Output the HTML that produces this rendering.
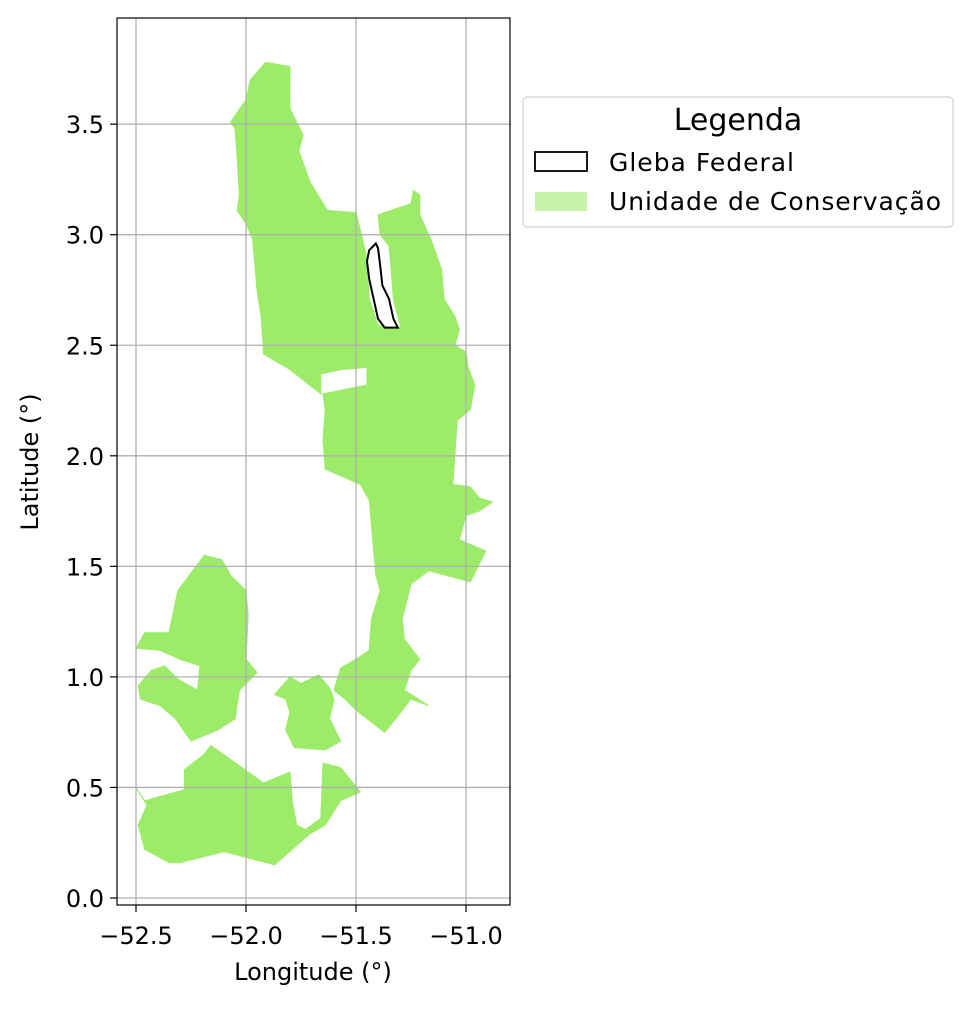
<!DOCTYPE html>
<html><head><meta charset="utf-8"><style>
body{margin:0;background:#fff;}
svg text{font-family:"DejaVu Sans","Liberation Sans",sans-serif;fill:#000;}
</style></head><body>
<svg id="chart" width="971" height="1006" xmlns="http://www.w3.org/2000/svg">
<rect width="971" height="1006" fill="#fff"/>
<g id="polys"></g>
<g id="grid"></g>
<g id="gleba"></g>
<rect x="117" y="18" width="393" height="887" fill="none" stroke="#000" stroke-width="1.2"/>
<g id="ticks"></g>
<text x="313" y="980" font-size="24" text-anchor="middle">Longitude (°)</text>
<text x="38" y="462" font-size="24" text-anchor="middle" transform="rotate(-90 38 462)">Latitude (°)</text>
<g>
<rect x="523" y="97" width="430" height="130" rx="4" fill="#fff" stroke="#d0d0d0" stroke-width="1.2"/>
<text x="738" y="130" font-size="30" text-anchor="middle">Legenda</text>
<rect x="535" y="152" width="52" height="19" fill="none" stroke="#000" stroke-width="1.8"/>
<text x="609" y="171" font-size="25" textLength="185">Gleba Federal</text>
<rect x="535" y="192" width="52" height="19" fill="#c6f3a9"/>
<text x="609" y="210" font-size="25" textLength="332">Unidade de Conservação</text>
</g>
</svg>
<script>
const xTicks=[-52.5,-52.0,-51.5,-51.0];
const xTickLabels=["−52.5","−52.0","−51.5","−51.0"];
const yTicks=[0.0,0.5,1.0,1.5,2.0,2.5,3.0,3.5];
const yTickLabels=["0.0","0.5","1.0","1.5","2.0","2.5","3.0","3.5"];
const ucNorth=[[-51.91,3.78],[-51.80,3.76],[-51.80,3.57],[-51.74,3.45],[-51.76,3.38],[-51.71,3.24],[-51.63,3.11],[-51.50,3.10],[-51.47,2.98],[-51.45,2.89],[-51.44,2.71],[-51.40,2.59],[-51.32,2.57],[-51.25,2.62],[-51.19,2.65],[-51.10,2.71],[-51.05,2.63],[-51.03,2.57],[-51.05,2.50],[-51.00,2.47],[-50.99,2.40],[-50.96,2.32],[-50.98,2.21],[-51.04,2.16],[-51.06,1.87],[-50.98,1.86],[-50.94,1.81],[-50.88,1.79],[-50.94,1.75],[-51.00,1.73],[-51.03,1.62],[-50.91,1.57],[-50.98,1.43],[-51.17,1.48],[-51.25,1.42],[-51.29,1.26],[-51.28,1.17],[-51.21,1.08],[-51.25,1.03],[-51.28,0.94],[-51.17,0.87],[-51.25,0.90],[-51.32,0.81],[-51.37,0.75],[-51.41,0.78],[-51.50,0.85],[-51.55,0.90],[-51.60,0.94],[-51.57,1.04],[-51.50,1.08],[-51.44,1.12],[-51.43,1.26],[-51.39,1.39],[-51.41,1.46],[-51.44,1.80],[-51.48,1.87],[-51.57,1.91],[-51.64,1.94],[-51.65,2.07],[-51.64,2.21],[-51.65,2.28],[-51.55,2.30],[-51.45,2.32],[-51.45,2.40],[-51.57,2.39],[-51.66,2.37],[-51.66,2.28],[-51.80,2.39],[-51.92,2.46],[-51.93,2.62],[-51.95,2.75],[-51.97,2.98],[-52.00,3.05],[-52.04,3.11],[-52.03,3.18],[-52.04,3.34],[-52.05,3.48],[-52.07,3.51],[-52.00,3.61],[-51.98,3.70]];
const ucEast=[[-51.40,3.09],[-51.25,3.14],[-51.24,3.20],[-51.21,3.18],[-51.21,3.09],[-51.16,2.98],[-51.11,2.84],[-51.10,2.71],[-51.19,2.65],[-51.25,2.62],[-51.30,2.59],[-51.31,2.63],[-51.33,2.71],[-51.34,2.84],[-51.35,2.95],[-51.39,3.00]];
const ucMiddle=[[-51.80,1.00],[-51.75,0.97],[-51.67,1.01],[-51.62,0.95],[-51.60,0.90],[-51.62,0.81],[-51.57,0.71],[-51.64,0.67],[-51.78,0.68],[-51.82,0.76],[-51.80,0.84],[-51.82,0.90],[-51.87,0.92]];
const ucSouthWest=[[-52.50,1.13],[-52.46,1.20],[-52.35,1.20],[-52.31,1.39],[-52.19,1.55],[-52.11,1.53],[-52.07,1.46],[-52.00,1.39],[-51.99,1.28],[-52.00,1.08],[-51.95,1.02],[-52.03,0.94],[-52.05,0.81],[-52.13,0.76],[-52.25,0.71],[-52.32,0.81],[-52.39,0.87],[-52.48,0.90],[-52.49,0.96],[-52.43,1.03],[-52.37,1.05],[-52.31,0.99],[-52.22,0.94],[-52.21,1.05],[-52.30,1.08],[-52.39,1.12]];
const ucSouth=[[-52.50,0.50],[-52.46,0.44],[-52.28,0.49],[-52.28,0.58],[-52.19,0.65],[-52.16,0.69],[-51.92,0.52],[-51.80,0.57],[-51.79,0.44],[-51.77,0.33],[-51.73,0.31],[-51.66,0.36],[-51.65,0.61],[-51.57,0.59],[-51.48,0.48],[-51.57,0.44],[-51.64,0.33],[-51.71,0.29],[-51.87,0.15],[-52.10,0.21],[-52.30,0.16],[-52.35,0.16],[-52.46,0.22],[-52.49,0.33],[-52.45,0.42]];
const gleba=[[-51.44,2.93],[-51.41,2.96],[-51.40,2.94],[-51.39,2.86],[-51.38,2.77],[-51.35,2.71],[-51.33,2.62],[-51.31,2.58],[-51.37,2.58],[-51.40,2.62],[-51.42,2.71],[-51.44,2.80],[-51.45,2.88]];

const NS='http://www.w3.org/2000/svg';
function xs(lon){return 136+(lon+52.5)*220;}
function ys(lat){return 898-lat*221.1;}
function mk(tag,attrs,parent){const e=document.createElementNS(NS,tag);for(const k in attrs)e.setAttribute(k,attrs[k]);parent.appendChild(e);return e;}
function pts(a){return a.map(p=>xs(p[0]).toFixed(1)+','+ys(p[1]).toFixed(1)).join(' ');}
const polys=document.getElementById('polys');
const ucs=[['uc-north',ucNorth],['uc-east',ucEast],['uc-middle',ucMiddle],['uc-southwest',ucSouthWest],['uc-south',ucSouth]];
ucs.forEach(([n,a])=>{
  const p=mk('polygon',{points:pts(a),fill:'#9ceb69',stroke:'#9ceb69','stroke-width':'1'},polys);
  
  
});
const grid=document.getElementById('grid'),ticks=document.getElementById('ticks');
xTicks.forEach((v,i)=>{
  const x=xs(v);
  const l=mk('line',{x1:x,x2:x,y1:18,y2:905,stroke:'#b0b0b0','stroke-width':'1.3'},grid);
  
  
  mk('line',{x1:x,x2:x,y1:905,y2:912,stroke:'#000','stroke-width':'1.2'},ticks);
  const t=mk('text',{x:x,y:944,'font-size':'24','text-anchor':'middle'},ticks);
  t.textContent=xTickLabels[i];
  
  
});
yTicks.forEach((v,i)=>{
  const y=ys(v);
  const l=mk('line',{x1:117,x2:510,y1:y,y2:y,stroke:'#b0b0b0','stroke-width':'1.3'},grid);
  
  
  mk('line',{x1:110,x2:117,y1:y,y2:y,stroke:'#000','stroke-width':'1.2'},ticks);
  const t=mk('text',{x:104,y:y+9,'font-size':'24','text-anchor':'end'},ticks);
  t.textContent=yTickLabels[i];
  
  
});
const g=mk('polygon',{points:pts(gleba),fill:'none',stroke:'#000','stroke-width':'2'},document.getElementById('gleba'));


</script>
</body></html>
